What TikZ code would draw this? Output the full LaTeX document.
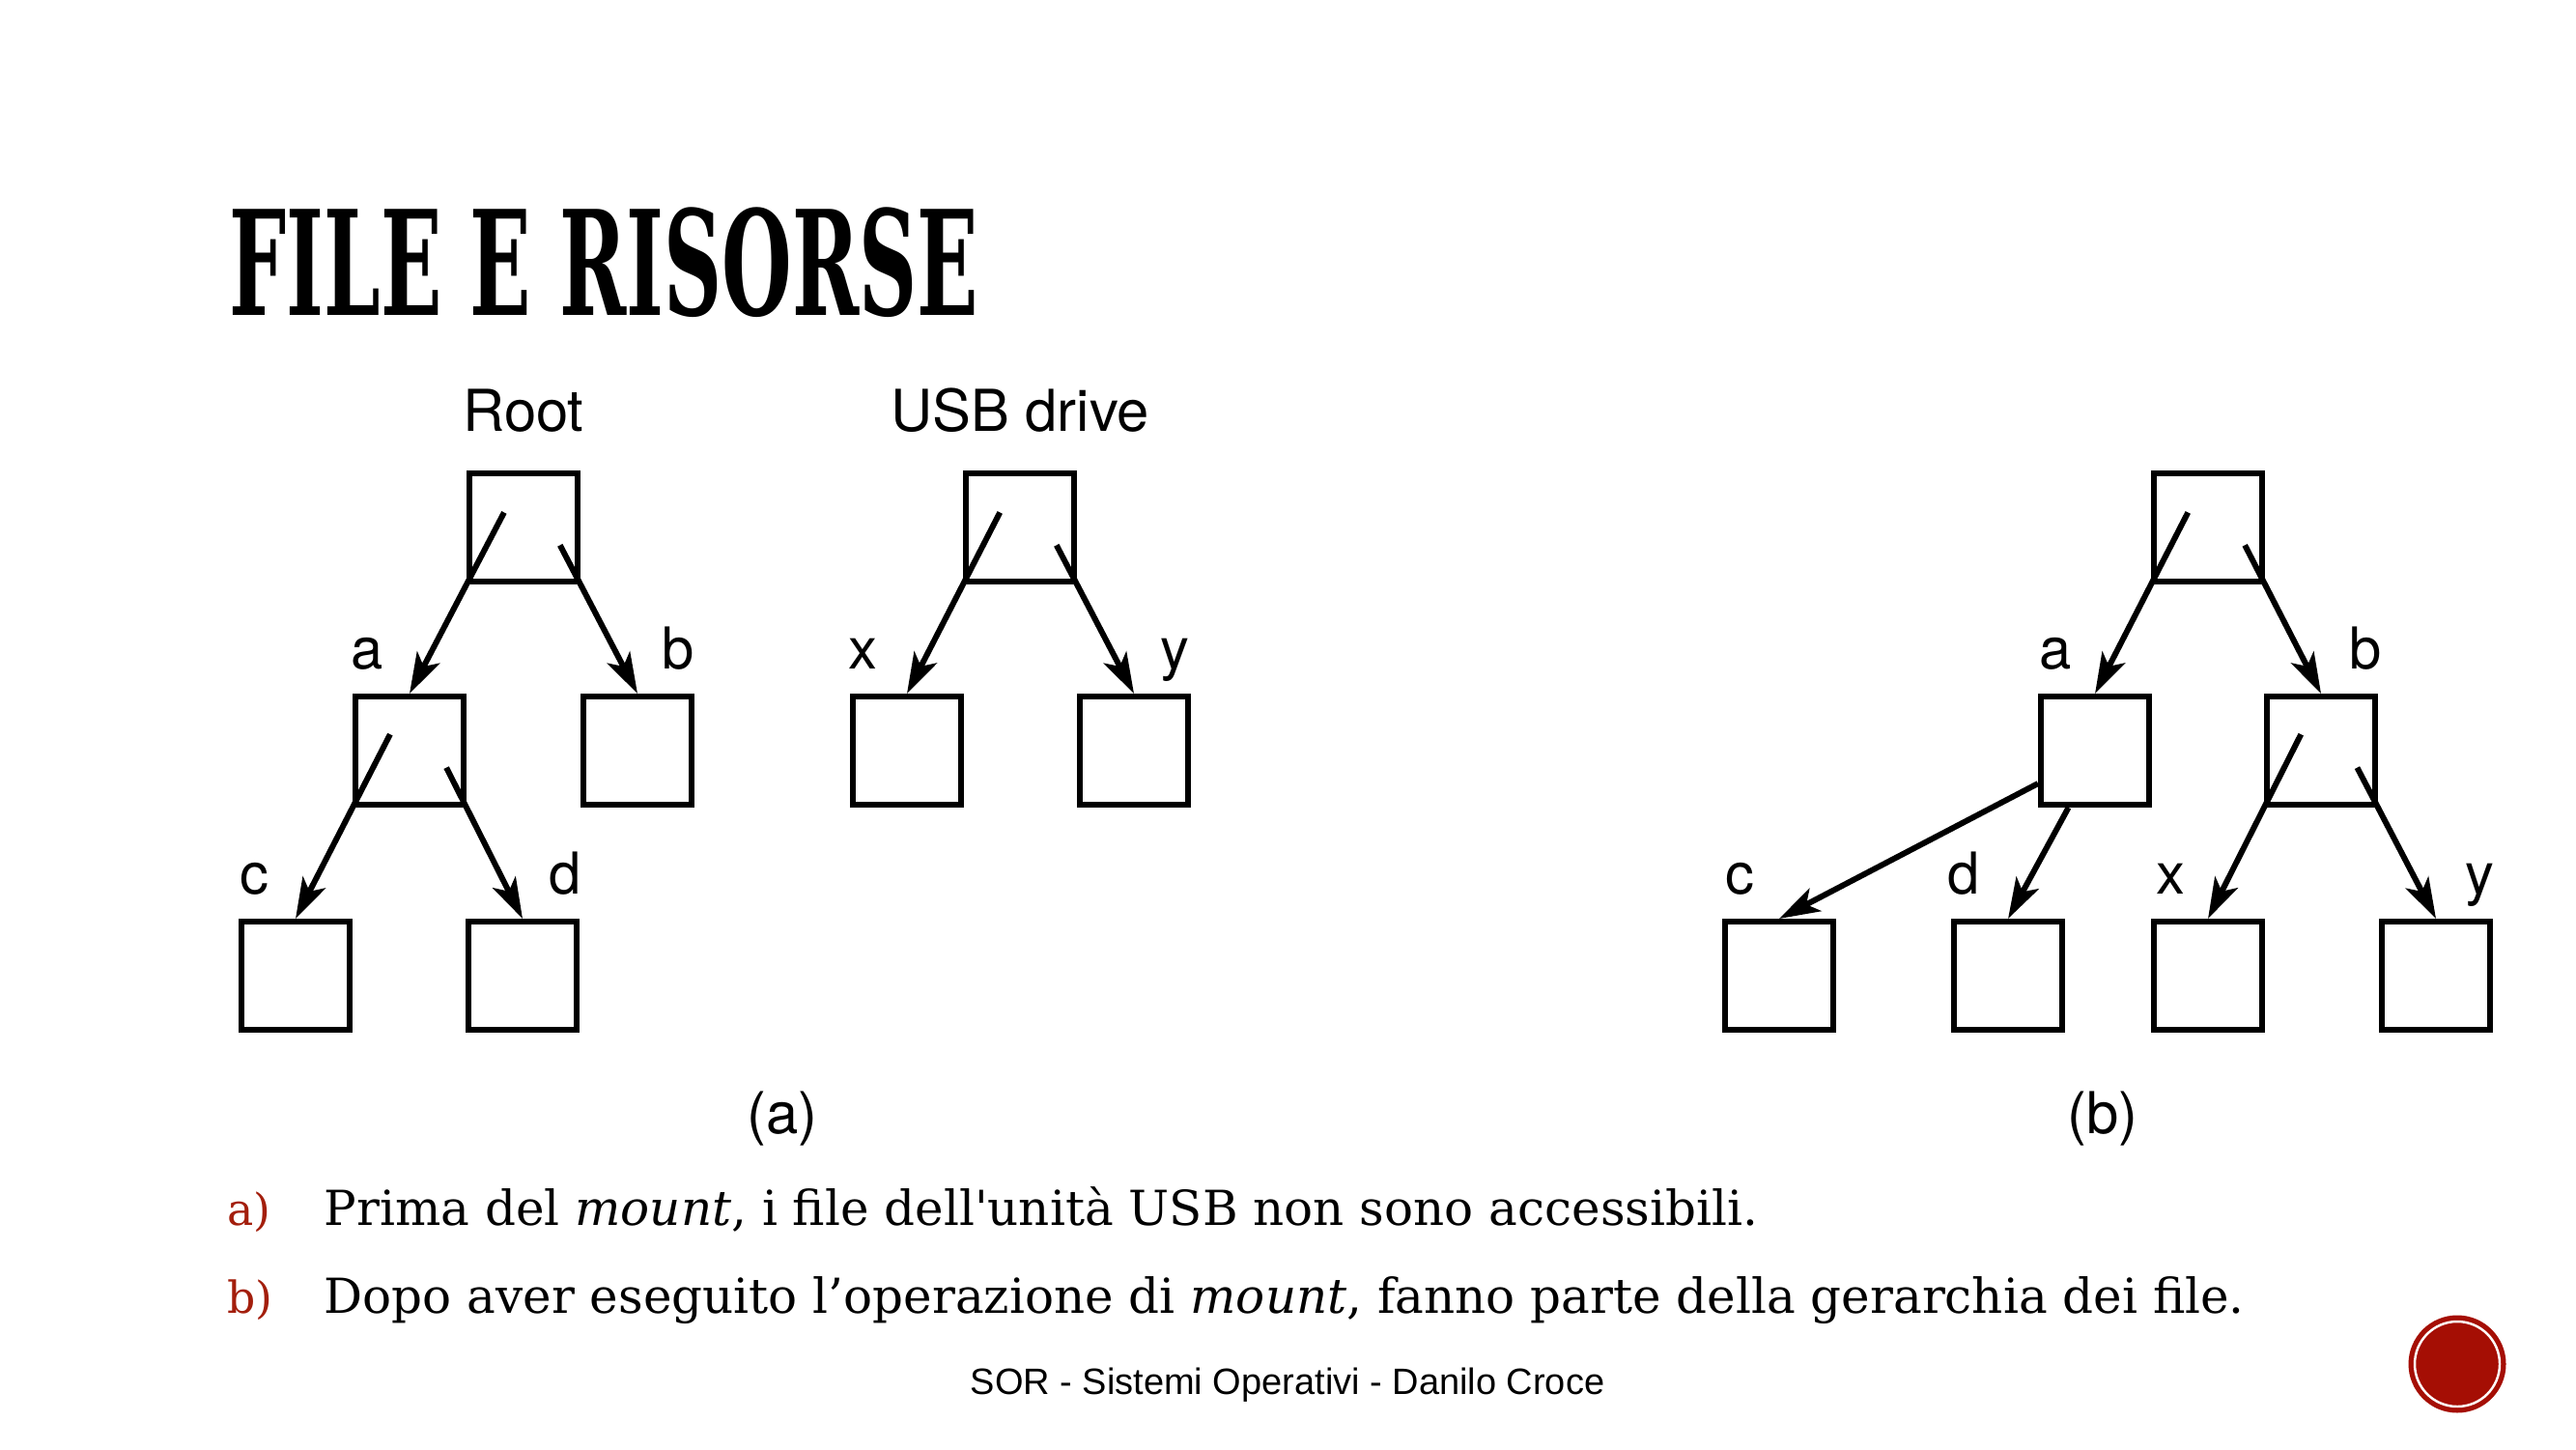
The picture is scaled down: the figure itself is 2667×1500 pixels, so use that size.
\documentclass[tikz,border=0pt]{standalone}
\usepackage{fontspec}
\setmainfont{TeX Gyre Heros}
\newfontfamily\corpo{DejaVu Serif}
\newfontfamily\titolofont{DejaVu Serif}
\newfontfamily\piede{Liberation Sans}
\usetikzlibrary{arrows.meta,calc}
\definecolor{rossoscuro}{RGB}{163,30,12}
\definecolor{rossologo}{RGB}{165,14,4}

\begin{document}
\begin{tikzpicture}[x=0.01cm, y=-0.01cm, font=\fontsize{17}{20}\selectfont,
  casella/.style={draw, line width=1.7pt, minimum size=1.12cm, inner sep=0pt},
  freccia/.style={line width=1.7pt, -{Stealth[length=12pt, width=7.5pt, inset=3pt]}},
  etich/.style={anchor=base, inner sep=0pt},
  testo/.style={anchor=base west, inner sep=0pt, font=\corpo\fontsize{14.2}{17}\selectfont}]
  \fill[white] (0,0) rectangle (2667,1500);
  \useasboundingbox (0,0) rectangle (2667,1500);
  % titolo
  \node[anchor=base west, inner sep=0pt] (titolo) at (237,327)
    {\resizebox{7.75cm}{1.117cm}{\titolofont\bfseries FILE E RISORSE}};
  % caselle: (a) a sinistra, (b) a destra
  \foreach \n/\cx/\cy in {root/542/546, a/424/777, b/660/777, c/306/1010, d/541/1010,
      usb/1056/546, x/939/777, y/1174/777,
      broot/2286/546, ba/2169/777, bb/2403/777, bc/1842/1010, bd/2079/1010,
      bx/2286/1010, by/2522/1010}
    \node[casella] (\n) at (\cx,\cy) {};
  % nomi
  \node[etich] (lroot) at ($(root.north)+(0,-40)$) {Root};
  \node[etich] (lusb) at ($(usb.north)+(0,-40)$) {USB drive};
  \foreach \n/\lab/\dx in {a/a/-44, b/b/42, c/c/-43, d/d/44, x/x/-46, y/y/42,
      ba/a/-41, bb/b/46, bc/c/-41, bd/d/-46, bx/x/-39, by/y/45}
    \node[etich] (l\n) at ($(\n.north)+(\dx,-25)$) {\lab};
  \node (capa) at (810,1158) {(a)};
  \node (capb) at (2177,1158) {(b)};
  % frecce
  \foreach \p/\f in {root/a, a/c, usb/x, broot/ba, bb/bx}
    \draw[freccia] ($(\p.south west)!-0.66!(\f.north)$) -- (\f.north);
  \foreach \p/\f in {root/b, a/d, usb/y, broot/bb, bb/by}
    \draw[freccia] ($(\p.south east)!-0.36!(\f.north)$) -- (\f.north);
  \draw[freccia] (ba.210) -- (bc.north);
  \draw[freccia] (ba.245) -- (bd.north);
  % elenco
  \node[testo, text=rossoscuro, font=\corpo\fontsize{13}{16}\selectfont] (pa) at (235,1268) {a)};
  \node[testo] (ta) at (335,1268) {Prima del \textit{mount}, i file dell\textquotesingle unità USB non sono accessibili.};
  \node[testo, text=rossoscuro, font=\corpo\fontsize{13}{16}\selectfont] (pb) at (235,1359) {b)};
  \node[testo] (tb) at (335,1359) {Dopo aver eseguito l’operazione di \textit{mount}, fanno parte della gerarchia dei file.};
  % piede
  \node[etich, font=\piede\fontsize{10.8}{13}\selectfont] (piede) at (1333,1443) {SOR - Sistemi Operativi - Danilo Croce};
  \fill[rossologo] (2544,1412) circle (50.5);
  \draw[white, line width=0.7pt] (2544,1412) circle (44);
\end{tikzpicture}
\end{document}
